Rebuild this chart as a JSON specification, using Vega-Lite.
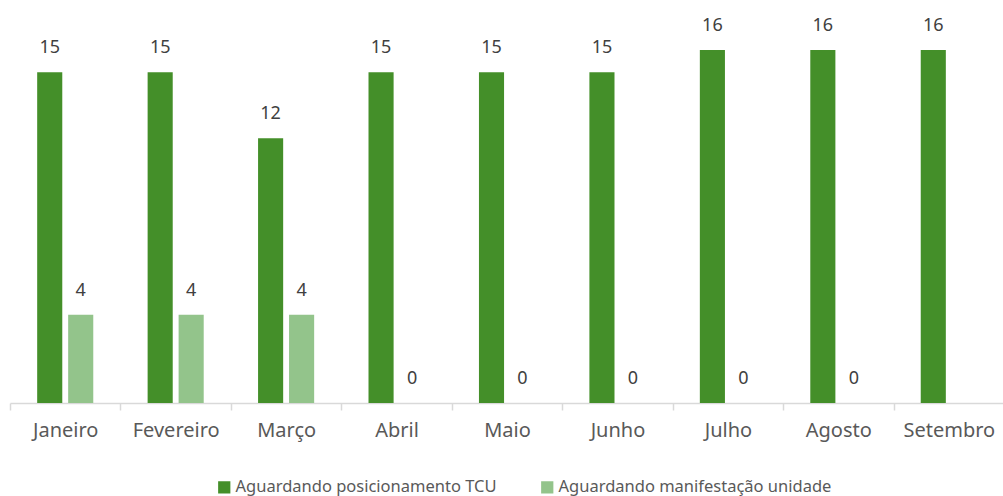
{
  "$schema": "https://vega.github.io/schema/vega-lite/v6.json",
  "autosize": {"type": "none"},
  "padding": {"left": 10, "top": 6, "right": 0, "bottom": 93},
  "width": 994,
  "height": 397,
  "background": "white",
  "config": {
    "view": {"stroke": null},
    "font": "Noto Sans"
  },
  "data": {
    "values": [
      {"mes": "Janeiro", "serie": "Aguardando posicionamento TCU", "valor": 15},
      {"mes": "Janeiro", "serie": "Aguardando manifestação unidade", "valor": 4},
      {"mes": "Fevereiro", "serie": "Aguardando posicionamento TCU", "valor": 15},
      {"mes": "Fevereiro", "serie": "Aguardando manifestação unidade", "valor": 4},
      {"mes": "Março", "serie": "Aguardando posicionamento TCU", "valor": 12},
      {"mes": "Março", "serie": "Aguardando manifestação unidade", "valor": 4},
      {"mes": "Abril", "serie": "Aguardando posicionamento TCU", "valor": 15},
      {"mes": "Abril", "serie": "Aguardando manifestação unidade", "valor": 0},
      {"mes": "Maio", "serie": "Aguardando posicionamento TCU", "valor": 15},
      {"mes": "Maio", "serie": "Aguardando manifestação unidade", "valor": 0},
      {"mes": "Junho", "serie": "Aguardando posicionamento TCU", "valor": 15},
      {"mes": "Junho", "serie": "Aguardando manifestação unidade", "valor": 0},
      {"mes": "Julho", "serie": "Aguardando posicionamento TCU", "valor": 16},
      {"mes": "Julho", "serie": "Aguardando manifestação unidade", "valor": 0},
      {"mes": "Agosto", "serie": "Aguardando posicionamento TCU", "valor": 16},
      {"mes": "Agosto", "serie": "Aguardando manifestação unidade", "valor": 0},
      {"mes": "Setembro", "serie": "Aguardando posicionamento TCU", "valor": 16}
    ]
  },
  "encoding": {
    "x": {
      "field": "mes",
      "type": "nominal",
      "sort": ["Janeiro", "Fevereiro", "Março", "Abril", "Maio", "Junho", "Julho", "Agosto", "Setembro"],
      "scale": {"paddingInner": 0, "paddingOuter": 0},
      "axis": {
        "title": null,
        "labelAngle": 0,
        "labelFontSize": 20,
        "labelColor": "#595959",
        "labelPadding": 10,
        "tickBand": "extent",
        "tickSize": 7,
        "tickColor": "#d9d9d9",
        "tickWidth": 1.5,
        "domainColor": "#d9d9d9",
        "domainWidth": 1.5,
        "labelFont": "Noto Sans"
      }
    },
    "xOffset": {
      "field": "serie",
      "type": "nominal",
      "sort": ["Aguardando posicionamento TCU", "Aguardando manifestação unidade"],
      "scale": {"paddingInner": 0.19, "paddingOuter": 0.877}
    },
    "y": {
      "field": "valor",
      "type": "quantitative",
      "scale": {"domain": [0, 18], "nice": false},
      "axis": null
    }
  },
  "layer": [
    {
      "mark": {"type": "bar"},
      "encoding": {
        "color": {
          "field": "serie",
          "type": "nominal",
          "sort": ["Aguardando posicionamento TCU", "Aguardando manifestação unidade"],
          "scale": {
            "domain": ["Aguardando posicionamento TCU", "Aguardando manifestação unidade"],
            "range": ["#448F29", "#93C48B"]
          },
          "legend": {
            "title": null,
            "orient": "none",
            "direction": "horizontal",
            "legendX": 206,
            "legendY": 473,
            "symbolType": "square",
            "symbolSize": 150,
            "symbolStrokeWidth": 0,
            "labelFontSize": 16.5,
            "labelColor": "#595959",
            "labelOffset": 3,
            "labelLimit": 400,
            "columnPadding": 42,
            "labelFont": "Noto Sans"
          }
        }
      }
    },
    {
      "mark": {"type": "text", "baseline": "alphabetic", "dy": -19, "fontSize": 18, "color": "#404040"},
      "encoding": {
        "text": {"field": "valor", "type": "quantitative"}
      }
    }
  ]
}
